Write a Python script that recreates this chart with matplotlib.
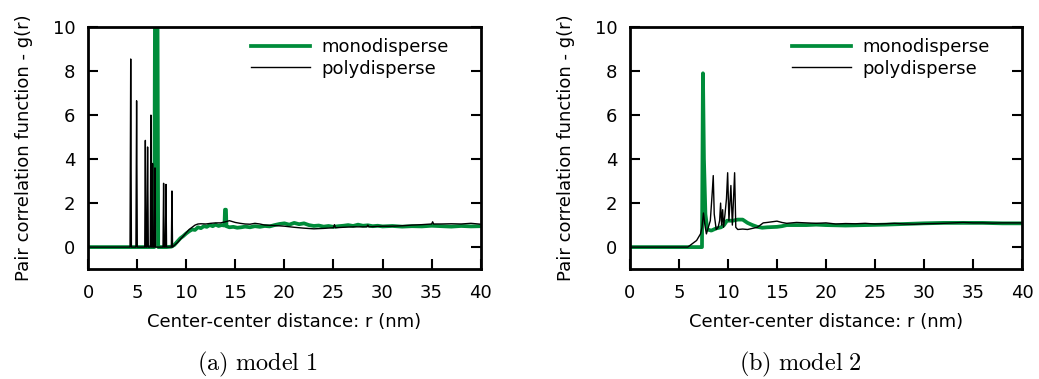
import matplotlib
matplotlib.use("Agg")
import matplotlib.pyplot as plt

plt.rcParams['font.family'] = 'DejaVu Sans'
plt.rcParams['mathtext.fontset'] = 'cm'

green = '#008c3a'

# model 1 - monodisperse
r1_mono = [0, 6.75, 6.82, 6.9, 7.0, 7.08, 7.15, 8.0, 8.5, 8.8, 9.1, 9.4, 9.7, 10.0, 10.3,
           10.6, 10.9, 11.2, 11.5, 11.8, 12.1, 12.4, 12.7, 13.0, 13.3, 13.6, 13.9, 13.95,
           14.05, 14.1, 14.4, 14.8, 15.2, 15.6, 16.0, 16.5, 17.0, 17.5, 18.0, 18.5, 19.0,
           19.5, 20.0, 20.5, 21.0, 21.5, 22.0, 22.5, 23.0, 23.5, 24.0, 24.5, 25.0, 25.5,
           26.0, 26.5, 27.0, 27.5, 28.0, 28.5, 29.0, 29.5, 30.0, 31.0, 32.0, 33.0, 34.0,
           35.0, 36.0, 37.0, 38.0, 39.0, 40.0]
g1_mono = [0, 0, 10.5, 10.5, 10.5, 10.5, 0, 0, 0.02, 0.1, 0.25, 0.4, 0.5, 0.62, 0.72,
           0.8, 0.78, 0.9, 0.86, 0.95, 0.92, 1.0, 0.95, 1.02, 0.96, 1.0, 0.98, 1.7,
           1.7, 0.95, 0.9, 0.92, 0.88, 0.9, 0.93, 0.9, 0.95, 0.92, 0.96, 0.94, 1.0,
           1.05, 1.08, 1.02, 1.1, 1.04, 1.08, 1.0, 0.96, 0.98, 0.93, 0.96, 0.92, 0.95,
           0.97, 1.0, 0.96, 1.02, 0.97, 0.99, 0.95, 0.97, 0.94, 0.96, 0.93, 0.95, 0.94,
           0.97, 0.95, 0.93, 0.96, 0.94, 0.95]

# model 1 - polydisperse
r1_poly = [0, 4.28, 4.35, 4.42, 4.88, 4.95, 5.02, 5.78, 5.84, 5.9, 6.0, 6.07, 6.14,
           6.34, 6.41, 6.48, 6.52, 6.58, 6.64, 6.76, 6.82, 6.88, 7.64, 7.7, 7.76, 7.88,
           7.94, 8.0, 8.49, 8.55, 8.61, 8.8, 9.1, 9.4, 9.7, 10.0, 10.3, 10.6, 10.9, 11.2,
           11.5, 12.0, 12.5, 13.0, 13.5, 14.0, 14.4, 15.0, 15.5, 16.0, 16.5, 17.0, 17.5,
           18.0, 19.0, 20.0, 21.0, 22.0, 23.0, 24.0, 25.0, 25.1, 25.2, 26.0, 27.0, 28.0,
           28.4, 28.5, 28.6, 29.0, 30.0, 31.0, 32.0, 33.0, 34.0, 35.0, 35.1, 35.2, 36.0,
           37.0, 38.0, 39.0, 40.0]
g1_poly = [0, 0, 8.55, 0, 0, 6.65, 0, 0, 4.85, 0, 0, 4.55, 0,
           0, 6.0, 0, 0, 3.8, 0, 0, 3.6, 0, 0, 2.9, 0, 0,
           2.85, 0, 0, 2.55, 0, 0.08, 0.2, 0.35, 0.5, 0.65, 0.8, 0.9, 1.0, 1.05,
           1.06, 1.05, 1.08, 1.1, 1.1, 1.15, 1.2, 1.12, 1.08, 1.05, 1.04, 1.08, 1.05,
           1.0, 0.98, 0.95, 0.9, 0.86, 0.83, 0.85, 0.88, 1.02, 0.88, 0.9, 0.92, 0.92,
           0.92, 1.0, 0.92, 0.93, 0.95, 0.95, 0.97, 1.0, 1.02, 1.05, 1.15, 1.05, 1.05,
           1.06, 1.05, 1.08, 1.04]

# model 2 - monodisperse
r2_mono = [0, 7.35, 7.45, 7.55, 7.7, 7.9, 8.3, 8.8, 9.3, 9.6, 9.9, 10.5, 11.0, 11.5,
           12.0, 12.5, 13.0, 13.5, 14.0, 15.0, 15.5, 16.0, 17.0, 18.0, 19.0, 20.0, 22.0,
           24.0, 26.0, 28.0, 30.0, 32.0, 34.0, 36.0, 38.0, 40.0]
g2_mono = [0, 0, 7.9, 4.0, 1.5, 0.8, 0.75, 0.85, 0.9, 1.0, 1.2, 1.2, 1.25, 1.25,
           1.1, 1.0, 0.92, 0.88, 0.9, 0.92, 0.95, 1.0, 1.0, 1.0, 1.02, 1.0, 0.98,
           1.0, 1.02, 1.05, 1.08, 1.1, 1.1, 1.1, 1.08, 1.08]

# model 2 - polydisperse
r2_poly = [0, 5.9, 6.2, 6.5, 6.8, 7.0, 7.2, 7.35, 7.5, 7.65, 7.8, 8.0, 8.2, 8.4, 8.5,
           8.6, 8.8, 9.0, 9.15, 9.25, 9.35, 9.46, 9.55, 9.7, 9.85, 9.97, 10.1, 10.3,
           10.45, 10.55, 10.68, 10.8, 11.0, 11.5, 12.0, 12.5, 13.0, 13.6, 14.0, 14.5,
           15.0, 15.5, 16.0, 16.5, 17.0, 18.0, 19.0, 20.0, 21.0, 22.0, 23.0, 24.0, 25.0,
           26.0, 27.0, 28.0, 29.0, 30.0, 31.0, 32.0, 33.0, 34.0, 35.0, 36.0, 37.0, 38.0,
           39.0, 40.0]
g2_poly = [0, 0, 0.1, 0.2, 0.3, 0.45, 0.6, 0.9, 1.55, 1.0, 0.6, 0.9, 1.2, 2.5, 3.25,
           1.5, 0.8, 0.9, 1.2, 2.0, 1.0, 1.7, 0.9, 1.5, 2.2, 3.38, 1.2, 2.8,
           1.0, 2.0, 3.38, 0.9, 0.8, 0.82, 0.8, 0.85, 0.9, 1.1, 1.12, 1.15,
           1.18, 1.12, 1.08, 1.1, 1.12, 1.1, 1.08, 1.1, 1.05, 1.07, 1.06, 1.08, 1.05,
           1.06, 1.08, 1.05, 1.04, 1.06, 1.07, 1.08, 1.1, 1.12, 1.1, 1.1, 1.09, 1.1,
           1.1, 1.1]

xticks = [0, 5, 10, 15, 20, 25, 30, 35, 40]
yticks = [0, 2, 4, 6, 8, 10]
captions = [r'$\mathrm{(a)\ model\ 1}$', r'$\mathrm{(b)\ model\ 2}$']

fig = plt.figure(figsize=(10.39, 3.79), dpi=100)
positions = [[0.0847, 0.290, 0.378, 0.6385], [0.6063, 0.290, 0.3773, 0.6385]]
caption_x = [257 / 1039, 800 / 1039]
data = [(r1_mono, g1_mono, r1_poly, g1_poly), (r2_mono, g2_mono, r2_poly, g2_poly)]

for i in range(2):
    ax = fig.add_axes(positions[i])
    rm, gm, rp, gp = data[i]
    ax.plot(rm, gm, color=green, lw=2.7, label='monodisperse', zorder=2)
    ax.plot(rp, gp, color='black', lw=1.0, label='polydisperse', zorder=3)
    ax.set_xlim(0, 40)
    ax.set_ylim(-1, 10)
    ax.set_xticks(xticks)
    ax.set_yticks(yticks)
    ax.tick_params(direction='in', length=7, width=1.5, right=True, top=False, labelsize=13)
    ax.tick_params(axis='x', pad=11)
    ax.tick_params(axis='y', pad=9)
    for s in ax.spines.values():
        s.set_linewidth(2)
    ax.set_xlabel('Center-center distance: r (nm)', fontsize=13, labelpad=8)
    ax.set_ylabel('Pair correlation function - g(r)', fontsize=13, labelpad=14)
    leg = ax.legend(loc='upper right', frameon=False, fontsize=13, handlelength=3.3,
                    handletextpad=0.6, labelspacing=0.2, borderaxespad=0.2,
                    bbox_to_anchor=(0.945, 1.0))
    fig.text(caption_x[i], 0.038, captions[i], ha='center', va='center', fontsize=17.5)

fig.savefig('out.png', dpi=100)
